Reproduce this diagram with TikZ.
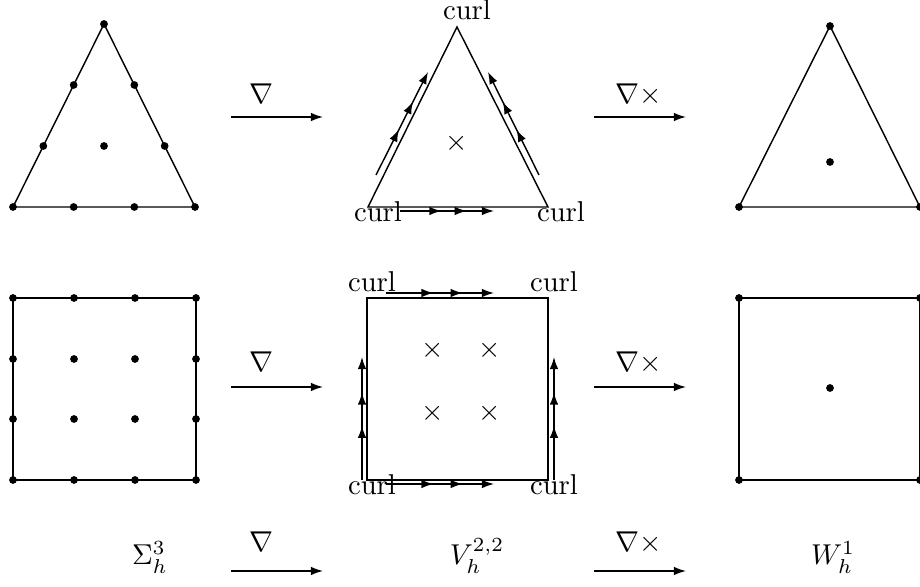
\documentclass[tikz,border=0pt]{standalone}
\usepackage{amsmath}
\usetikzlibrary{arrows.meta, calc, decorations.markings}

\begin{document}
\begin{tikzpicture}[
    x=0.3485pt, y=-0.3485pt,
    edge/.style={line width=0.5pt},
    map/.style={-{Latex[length=4.2pt, width=3pt]}, line width=0.5pt},
    flux/.style={map, postaction={decorate},
        decoration={markings,
            mark=at position 0.44 with {\arrow{Latex[length=4.2pt, width=3pt]}},
            mark=at position 0.71 with {\arrow{Latex[length=4.2pt, width=3pt]}}}},
    lbl/.style={inner sep=0pt, anchor=base},
    dof/.style={fill=black}
]
\useasboundingbox (0,0) rectangle (920,587);

% first column: Sigma_h^3
\coordinate (a1) at (13,207);
\coordinate (b1) at (195,207);
\coordinate (c1) at (104,24);
\draw[edge] (a1) -- (b1) -- (c1) -- cycle;
\foreach \p in {a1,b1,c1} \fill[dof] (\p) circle (1.35pt);
\foreach \s/\t in {a1/b1, b1/c1, c1/a1} {
  \fill[dof] ($(\s)!1/3!(\t)$) circle (1.35pt);
  \fill[dof] ($(\s)!2/3!(\t)$) circle (1.35pt);
}
\fill[dof] ($(a1)!0.5!(b1)!1/3!(c1)$) circle (1.35pt);

\draw[edge] (13,298) rectangle (196,480);
\foreach \x in {13,74,135,196}
  \foreach \y in {298,359,419,480}
    \fill[dof] (\x,\y) circle (1.35pt);

% second column: V_h^{2,2}
\coordinate (a2) at (368,207);
\coordinate (b2) at (548,207);
\coordinate (c2) at (457,27);
\draw[edge] (a2) -- (b2) -- (c2) -- cycle;
\draw[flux] (376,175) -- (428,72);
\draw[flux] (539,175) -- (488,72);
\draw[flux] (400,211) -- (494,211);
\node[lbl] (curlc) at (467,20) {curl};
\node[lbl] (curla) at (378,222) {curl};
\node[lbl] (curlb) at (561,222) {curl};
\node (xt) at (457,143) {$\times$};

\draw[edge] (367,298) rectangle (548,480);
\draw[flux] (386,293) -- (494,293);
\draw[flux] (386,484) -- (494,484);
\draw[flux] (362,480) -- (362,357);
\draw[flux] (554,480) -- (554,357);
\node[lbl] (curlnw) at (372,292) {curl};
\node[lbl] (curlne) at (554,292) {curl};
\node[lbl] (curlsw) at (372,495) {curl};
\node[lbl] (curlse) at (554,495) {curl};
\node (x11) at (433,350) {$\times$};
\node (x21) at (490,350) {$\times$};
\node (x12) at (433,413) {$\times$};
\node (x22) at (490,413) {$\times$};

% third column: W_h^1
\coordinate (a3) at (739,207);
\coordinate (b3) at (920,207);
\coordinate (c3) at (830,26);
\draw[edge] (a3) -- (b3) -- (c3) -- cycle;
\foreach \p in {a3,b3,c3} \fill[dof] (\p) circle (1.35pt);
\fill[dof] (830,162) circle (1.35pt);

\draw[edge] (739,298) rectangle (920,480);
\foreach \p in {(739,298),(920,298),(739,480),(920,480),(830,388)}
  \fill[dof] \p circle (1.35pt);

% maps between the columns
\coordinate (g1) at (231,117);  \coordinate (g2) at (323,117);
\coordinate (c1a) at (594,117); \coordinate (c1b) at (686,117);
\coordinate (g3) at (231,387);  \coordinate (g4) at (323,387);
\coordinate (c2a) at (594,387); \coordinate (c2b) at (686,387);
\coordinate (g5) at (231,571);  \coordinate (g6) at (323,571);
\coordinate (c3a) at (594,571); \coordinate (c3b) at (686,571);

\draw[map] (g1) -- (g2);
\draw[map] (c1a) -- (c1b);
\draw[map] (g3) -- (g4);
\draw[map] (c2a) -- (c2b);
\draw[map] (g5) -- (g6);
\draw[map] (c3a) -- (c3b);

\node[lbl] (grad1) at (261,104) {$\nabla$};
\node[lbl] (curl1) at (639,104) {$\nabla\times$};
\node[lbl] (grad2) at (261,372) {$\nabla$};
\node[lbl] (curl2) at (639,372) {$\nabla\times$};
\node[lbl] (grad3) at (261,552) {$\nabla$};
\node[lbl] (curl3) at (639,552) {$\nabla\times$};

% spaces
\node[lbl] (sigma) at (150,565) {$\Sigma_h^3$};
\node[lbl] (vee)   at (477,565) {$V_h^{2,2}$};
\node[lbl] (wee)   at (833,565) {$W_h^1$};

\end{tikzpicture}
\end{document}
